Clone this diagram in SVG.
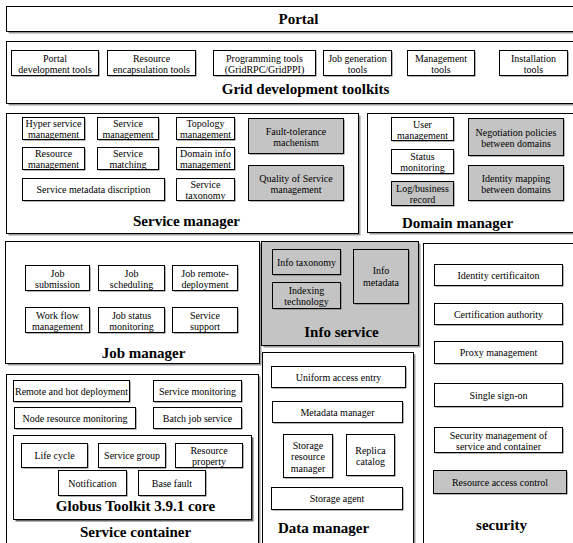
<svg xmlns="http://www.w3.org/2000/svg" width="573" height="543" viewBox="0 0 573 543">
<style>
.b{fill:#fff;stroke:#000;stroke-width:1}
.g{fill:#c4c4c4;stroke:#000;stroke-width:1}
.sh{fill:#999}
.si{fill:#666}
text{font-family:'Liberation Serif','Times New Roman','DejaVu Serif',serif;font-size:10px;fill:#000;text-anchor:middle;dominant-baseline:central}
.t{font-size:15px;font-weight:bold}
</style>
<rect width="573" height="543" fill="#fff"/>
<g transform="translate(0.5 0.5)" font-family="Liberation Serif, serif">
<g id="portal">
<rect class="sh" x="8" y="8" width="570" height="25"/>
<rect class="b" x="6" y="6" width="570" height="25"/>
<text class="t" x="298" y="18.5">Portal</text>
</g>
<g id="grid-toolkits">
<rect class="sh" x="8" y="43" width="570" height="62"/>
<rect class="b" x="6" y="41" width="570" height="62"/>
<text class="t" x="305" y="88">Grid development toolkits</text>
<g id="portal-dev"><rect class="si" x="12" y="51" width="87" height="25"/><rect class="b" x="11" y="50" width="87" height="25"/><text><tspan x="54.5" y="57">Portal</tspan><tspan x="54.5" y="68">development tools</tspan></text></g>
<g id="res-encap"><rect class="si" x="108" y="51" width="88" height="25"/><rect class="b" x="107" y="50" width="88" height="25"/><text><tspan x="151" y="57">Resource</tspan><tspan x="151" y="68">encapsulation tools</tspan></text></g>
<g id="prog-tools"><rect class="si" x="214" y="51" width="102" height="25"/><rect class="b" x="213" y="50" width="102" height="25"/><text><tspan x="264" y="57">Programming tools</tspan><tspan x="264" y="68">(GridRPC/GridPPI)</tspan></text></g>
<g id="job-gen"><rect class="si" x="324" y="51" width="68" height="25"/><rect class="b" x="323" y="50" width="68" height="25"/><text><tspan x="357" y="57">Job generation</tspan><tspan x="357" y="68">tools</tspan></text></g>
<g id="mgmt-tools"><rect class="si" x="408" y="51" width="67" height="25"/><rect class="b" x="407" y="50" width="67" height="25"/><text><tspan x="440.5" y="57">Management</tspan><tspan x="440.5" y="68">tools</tspan></text></g>
<g id="install-tools"><rect class="si" x="500" y="51" width="68" height="25"/><rect class="b" x="499" y="50" width="68" height="25"/><text><tspan x="533" y="57">Installation</tspan><tspan x="533" y="68">tools</tspan></text></g>
</g>
<g id="service-manager">
<rect class="sh" x="8" y="115" width="352" height="120"/>
<rect class="b" x="6" y="113" width="352" height="120"/>
<text class="t" x="186" y="220">Service manager</text>
<g id="hyper-svc"><rect class="si" x="23" y="118" width="62" height="22"/><rect class="b" x="22" y="117" width="62" height="22"/><text><tspan x="53" y="122.5">Hyper service</tspan><tspan x="53" y="133.5">management</tspan></text></g>
<g id="svc-mgmt"><rect class="si" x="98" y="118" width="61" height="22"/><rect class="b" x="97" y="117" width="61" height="22"/><text><tspan x="127.5" y="122.5">Service</tspan><tspan x="127.5" y="133.5">management</tspan></text></g>
<g id="topo-mgmt"><rect class="si" x="177" y="118" width="58" height="22"/><rect class="b" x="176" y="117" width="58" height="22"/><text><tspan x="205" y="122.5">Topology</tspan><tspan x="205" y="133.5">management</tspan></text></g>
<g id="fault-tol"><rect class="si" x="249" y="119" width="95" height="35"/><rect class="g" x="248" y="118" width="95" height="35"/><text><tspan x="295.5" y="130">Fault-tolerance</tspan><tspan x="295.5" y="141">machenism</tspan></text></g>
<g id="res-mgmt"><rect class="si" x="23" y="148" width="62" height="22"/><rect class="b" x="22" y="147" width="62" height="22"/><text><tspan x="53" y="152.5">Resource</tspan><tspan x="53" y="163.5">management</tspan></text></g>
<g id="svc-match"><rect class="si" x="98" y="148" width="61" height="22"/><rect class="b" x="97" y="147" width="61" height="22"/><text><tspan x="127.5" y="152.5">Service</tspan><tspan x="127.5" y="163.5">matching</tspan></text></g>
<g id="domain-info"><rect class="si" x="177" y="148" width="58" height="22"/><rect class="b" x="176" y="147" width="58" height="22"/><text><tspan x="205" y="152.5">Domain info</tspan><tspan x="205" y="163.5">management</tspan></text></g>
<g id="svc-meta"><rect class="si" x="23" y="179" width="142" height="22"/><rect class="b" x="22" y="178" width="142" height="22"/><text x="93" y="189">Service metadata discription</text></g>
<g id="svc-tax"><rect class="si" x="177" y="179" width="58" height="22"/><rect class="b" x="176" y="178" width="58" height="22"/><text><tspan x="205" y="183.5">Service</tspan><tspan x="205" y="194.5">taxonomy</tspan></text></g>
<g id="qos"><rect class="si" x="249" y="166" width="95" height="35"/><rect class="g" x="248" y="165" width="95" height="35"/><text><tspan x="295.5" y="177">Quality of Service</tspan><tspan x="295.5" y="188">management</tspan></text></g>
</g>
<g id="domain-manager">
<rect class="sh" x="369" y="115" width="210" height="119"/>
<rect class="b" x="367" y="113" width="210" height="119"/>
<text class="t" x="457" y="222">Domain manager</text>
<g id="user-mgmt"><rect class="si" x="392" y="118" width="62" height="23"/><rect class="b" x="391" y="117" width="62" height="23"/><text><tspan x="422" y="123">User</tspan><tspan x="422" y="134">management</tspan></text></g>
<g id="status-mon"><rect class="si" x="392" y="150" width="62" height="24"/><rect class="b" x="391" y="149" width="62" height="24"/><text><tspan x="422" y="155.5">Status</tspan><tspan x="422" y="166.5">monitoring</tspan></text></g>
<g id="log-record"><rect class="si" x="392" y="182" width="62" height="24"/><rect class="g" x="391" y="181" width="62" height="24"/><text><tspan x="422" y="187.5">Log/business</tspan><tspan x="422" y="198.5">record</tspan></text></g>
<g id="negotiation"><rect class="si" x="469" y="119" width="95" height="37"/><rect class="g" x="468" y="118" width="95" height="37"/><text><tspan x="515.5" y="131">Negotiation policies</tspan><tspan x="515.5" y="142">between domains</tspan></text></g>
<g id="identity-map"><rect class="si" x="469" y="166" width="95" height="35"/><rect class="g" x="468" y="165" width="95" height="35"/><text><tspan x="515.5" y="177">Identity mapping</tspan><tspan x="515.5" y="188">between domains</tspan></text></g>
</g>
<g id="job-manager">
<rect class="sh" x="7" y="243" width="254" height="122"/>
<rect class="b" x="5" y="241" width="254" height="122"/>
<text class="t" x="143" y="352">Job manager</text>
<g id="job-sub"><rect class="si" x="26" y="266" width="64" height="25"/><rect class="b" x="25" y="265" width="64" height="25"/><text><tspan x="57" y="272">Job</tspan><tspan x="57" y="283">submission</tspan></text></g>
<g id="job-sched"><rect class="si" x="99" y="266" width="66" height="25"/><rect class="b" x="98" y="265" width="66" height="25"/><text><tspan x="131" y="272">Job</tspan><tspan x="131" y="283">scheduling</tspan></text></g>
<g id="job-remote"><rect class="si" x="173" y="266" width="65" height="25"/><rect class="b" x="172" y="265" width="65" height="25"/><text><tspan x="204.5" y="272">Job remote-</tspan><tspan x="204.5" y="283">deployment</tspan></text></g>
<g id="workflow"><rect class="si" x="26" y="308" width="64" height="25"/><rect class="b" x="25" y="307" width="64" height="25"/><text><tspan x="57" y="314">Work flow</tspan><tspan x="57" y="325">management</tspan></text></g>
<g id="job-status"><rect class="si" x="99" y="308" width="66" height="25"/><rect class="b" x="98" y="307" width="66" height="25"/><text><tspan x="131" y="314">Job status</tspan><tspan x="131" y="325">monitoring</tspan></text></g>
<g id="svc-support"><rect class="si" x="173" y="308" width="65" height="25"/><rect class="b" x="172" y="307" width="65" height="25"/><text><tspan x="204.5" y="314">Service</tspan><tspan x="204.5" y="325">support</tspan></text></g>
</g>
<g id="info-service">
<rect class="sh" x="263" y="243" width="157" height="104"/>
<rect class="g" x="261" y="241" width="157" height="104"/>
<text class="t" x="341" y="331">Info service</text>
<g id="info-tax"><rect class="si" x="273" y="250" width="68" height="25"/><rect class="g" x="272" y="249" width="68" height="25"/><text x="306" y="261.5">Info taxonomy</text></g>
<g id="indexing"><rect class="si" x="273" y="283" width="68" height="26"/><rect class="g" x="272" y="282" width="68" height="26"/><text><tspan x="306" y="289.5">Indexing</tspan><tspan x="306" y="300.5">technology</tspan></text></g>
<g id="info-meta"><rect class="si" x="354" y="250" width="55" height="54"/><rect class="g" x="353" y="249" width="55" height="54"/><text><tspan x="380.5" y="269.5">Info</tspan><tspan x="380.5" y="281.5">metadata</tspan></text></g>
</g>
<g id="security">
<rect class="sh" x="425" y="245" width="155" height="310"/>
<rect class="b" x="423" y="243" width="155" height="310"/>
<text class="t" x="501" y="524">security</text>
<g id="identity-cert"><rect class="si" x="435" y="265" width="128" height="21"/><rect class="b" x="434" y="264" width="128" height="21"/><text x="498" y="274.5">Identity certificaiton</text></g>
<g id="cert-auth"><rect class="si" x="435" y="304" width="128" height="21"/><rect class="b" x="434" y="303" width="128" height="21"/><text x="498" y="313.5">Certification authority</text></g>
<g id="proxy-mgmt"><rect class="si" x="435" y="342" width="128" height="22"/><rect class="b" x="434" y="341" width="128" height="22"/><text x="498" y="352">Proxy management</text></g>
<g id="sso"><rect class="si" x="435" y="384" width="128" height="23"/><rect class="b" x="434" y="383" width="128" height="23"/><text x="498" y="394.5">Single sign-on</text></g>
<g id="sec-mgmt"><rect class="si" x="435" y="428" width="128" height="25"/><rect class="b" x="434" y="427" width="128" height="25"/><text><tspan x="498" y="434">Security management of</tspan><tspan x="498" y="445">service and container</tspan></text></g>
<g id="res-access"><rect class="si" x="434" y="471" width="133" height="23"/><rect class="g" x="433" y="470" width="133" height="23"/><text x="499.5" y="481.5">Resource access control</text></g>
</g>
<g id="data-manager">
<rect class="sh" x="264" y="354" width="151" height="200"/>
<rect class="b" x="262" y="352" width="151" height="200"/>
<text class="t" x="323" y="527">Data manager</text>
<g id="uniform-access"><rect class="si" x="272" y="367" width="134" height="21"/><rect class="b" x="271" y="366" width="134" height="21"/><text x="338" y="376.5">Uniform access entry</text></g>
<g id="meta-mgr"><rect class="si" x="273" y="402" width="130" height="21"/><rect class="b" x="272" y="401" width="130" height="21"/><text x="337" y="411.5">Metadata manager</text></g>
<g id="storage-res"><rect class="si" x="284" y="435" width="49" height="43"/><rect class="b" x="283" y="434" width="49" height="43"/><text><tspan x="307.5" y="444">Storage</tspan><tspan x="307.5" y="455.5">resource</tspan><tspan x="307.5" y="467">manager</tspan></text></g>
<g id="replica"><rect class="si" x="347" y="435" width="48" height="41"/><rect class="b" x="346" y="434" width="48" height="41"/><text><tspan x="370" y="449">Replica</tspan><tspan x="370" y="460">catalog</tspan></text></g>
<g id="storage-agent"><rect class="si" x="272" y="488" width="131" height="22"/><rect class="b" x="271" y="487" width="131" height="22"/><text x="336.5" y="498">Storage agent</text></g>
</g>
<g id="service-container">
<rect class="sh" x="8" y="376" width="252" height="180"/>
<rect class="b" x="6" y="374" width="252" height="180"/>
<text class="t" x="135" y="531">Service container</text>
<g id="remote-hot"><rect class="si" x="14" y="381" width="116" height="21"/><rect class="b" x="13" y="380" width="116" height="21"/><text x="71" y="390.5">Remote and hot deployment</text></g>
<g id="svc-mon"><rect class="si" x="154" y="381" width="88" height="21"/><rect class="b" x="153" y="380" width="88" height="21"/><text x="197" y="390.5">Service monitoring</text></g>
<g id="node-res"><rect class="si" x="15" y="408" width="121" height="21"/><rect class="b" x="14" y="407" width="121" height="21"/><text x="74.5" y="417.5">Node resource monitoring</text></g>
<g id="batch-job"><rect class="si" x="154" y="408" width="88" height="21"/><rect class="b" x="153" y="407" width="88" height="21"/><text x="197" y="417.5">Batch job service</text></g>
<g id="globus-core">
<rect class="si" x="15" y="437" width="238" height="84"/>
<rect class="b" x="13" y="435" width="238" height="84"/>
<text class="t" x="135" y="505">Globus Toolkit 3.9.1 core</text>
<g id="life-cycle"><rect class="si" x="22" y="444" width="66" height="24"/><rect class="b" x="21" y="443" width="66" height="24"/><text x="54" y="455">Life cycle</text></g>
<g id="svc-group"><rect class="si" x="99" y="444" width="67" height="24"/><rect class="b" x="98" y="443" width="67" height="24"/><text x="131.5" y="455">Service group</text></g>
<g id="res-prop"><rect class="si" x="176" y="444" width="67" height="24"/><rect class="b" x="175" y="443" width="67" height="24"/><text><tspan x="208.5" y="449.5">Resource</tspan><tspan x="208.5" y="460.5">property</tspan></text></g>
<g id="notification"><rect class="si" x="59" y="471" width="68" height="25"/><rect class="b" x="58" y="470" width="68" height="25"/><text x="92" y="482.5">Notification</text></g>
<g id="base-fault"><rect class="si" x="139" y="471" width="67" height="25"/><rect class="b" x="138" y="470" width="67" height="25"/><text x="171.5" y="482.5">Base fault</text></g>
</g>
</g>
<g id="connectors"/>
</g>
</svg>
